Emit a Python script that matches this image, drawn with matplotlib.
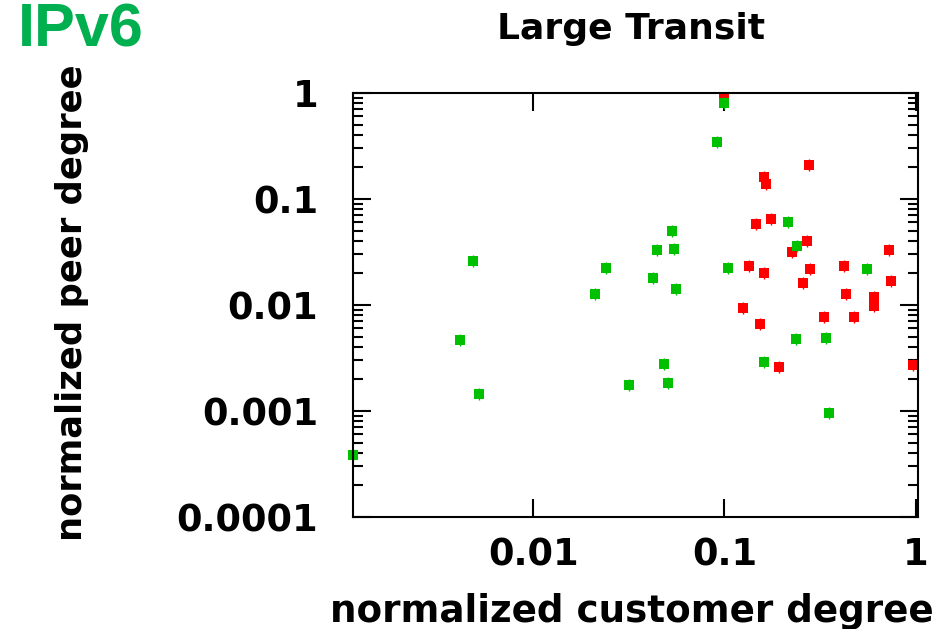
import matplotlib
matplotlib.use("Agg")
import matplotlib.pyplot as plt
from matplotlib.ticker import LogLocator, FixedLocator, NullLocator

green_x = [0.00114, 0.00487, 0.0211, 0.0241, 0.00415, 0.0052, 0.0317,
           0.1, 0.0913, 0.0531, 0.0445, 0.0546, 0.0422, 0.0557, 0.1045,
           0.216, 0.241, 0.555, 0.0486, 0.0510, 0.161, 0.236, 0.339, 0.354]
green_y = [0.000385, 0.0258, 0.0127, 0.0222, 0.00468, 0.00144, 0.00175,
           0.804, 0.345, 0.0496, 0.0328, 0.0338, 0.0179, 0.0142, 0.0223,
           0.0603, 0.0358, 0.0216, 0.00276, 0.00181, 0.00288, 0.00471, 0.00485, 0.000951]

red_x = [0.0995, 0.276, 0.161, 0.1646, 0.176, 0.147, 0.271, 0.225, 0.729,
         0.135, 0.161, 0.2816, 0.424, 0.258, 0.746, 0.434, 0.607, 0.607,
         0.1257, 0.1537, 0.332, 0.474, 0.193, 0.973]
red_y = [0.9, 0.209, 0.161, 0.138, 0.0648, 0.0577, 0.0396, 0.0314, 0.0326,
         0.0232, 0.020, 0.0216, 0.0233, 0.016, 0.0166, 0.0127, 0.0118, 0.0097,
         0.0093, 0.00662, 0.0077, 0.0077, 0.00257, 0.00268]

x_ticks = [0.01, 0.1, 1]
x_labels = ["0.01", "0.1", "1"]
y_ticks = [0.0001, 0.001, 0.01, 0.1, 1]
y_labels = ["0.0001", "0.001", "0.01", "0.1", "1"]

plt.rcParams['font.family'] = ['DejaVu Sans']
fig = plt.figure(figsize=(9.41, 6.29), dpi=100)
ax = fig.add_axes([0.3748, 0.1785, 0.6005, 0.6741])
ax.set_xscale('log')
ax.set_yscale('log')

for xs, ys, c in [(red_x, red_y, '#ff0000'), (green_x, green_y, '#00c000')]:
    ax.plot(xs, ys, linestyle='none', marker='s', markersize=6.8, color=c,
            markeredgewidth=0, clip_on=False)
    ax.plot(xs, ys, linestyle='none', marker='|', markersize=9.0, color=c,
            markeredgewidth=1, clip_on=False)

ax.set_xlim(0.00114, 1.026)
ax.set_ylim(0.0001, 1)
ax.xaxis.set_major_locator(FixedLocator(x_ticks))
ax.xaxis.set_minor_locator(NullLocator())
ax.set_xticklabels(x_labels)
ax.yaxis.set_major_locator(FixedLocator(y_ticks))
ax.yaxis.set_minor_locator(LogLocator(base=10, subs=range(2, 10)))
ax.set_yticklabels(y_labels)

ax.tick_params(which='both', direction='in', top=True, right=True, width=1.5, colors='#000000')
ax.tick_params(which='major', length=13, labelsize=26.5)
ax.tick_params(which='minor', length=7)
ax.tick_params(axis='y', which='major', pad=25)
ax.tick_params(axis='x', which='major', pad=14)
for lab in ax.get_xticklabels() + ax.get_yticklabels():
    lab.set_fontweight('bold')
for s in ax.spines.values():
    s.set_linewidth(1.5)

fig.text(0.6716, 0.0111, 'normalized customer degree', ha='center', va='baseline',
         fontsize=26.8, fontweight='bold')
fig.text(0.0765, 0.519, 'normalized peer degree', ha='center', va='center',
         rotation=90, fontsize=25.4, fontweight='bold')
fig.text(0.671, 0.938, 'Large Transit', ha='center', va='baseline', fontsize=26, fontweight='bold')
fig.text(0.019, 0.926, 'IPv6', ha='left', va='baseline', fontsize=44, fontweight='bold',
         color='#00b050', family=['Liberation Sans'])

fig.savefig('out.png', dpi=100)
